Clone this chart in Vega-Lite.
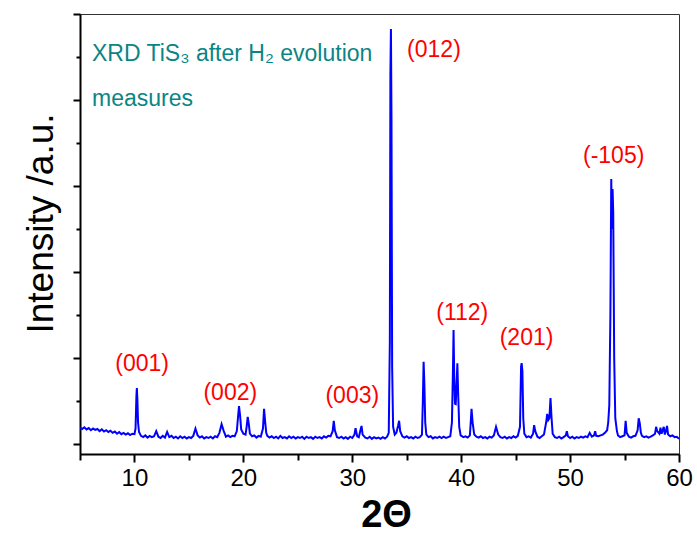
{
"$schema":"https://vega.github.io/schema/vega-lite/v6.json",
"width":599,"height":440,
"autosize":{"type":"none"},
"padding":{"left":80,"top":14,"right":18,"bottom":79},
"background":"white",
"config":{"view":{"stroke":"#333333","strokeWidth":1}},
"datasets":{
"xrd":[
{"t":5.0,"i":190},{"t":5.2,"i":175},{"t":5.4,"i":195},{"t":5.6,"i":170},{"t":5.8,"i":185},{"t":6.0,"i":160},{"t":6.2,"i":180},{"t":6.4,"i":165},{"t":6.6,"i":175},{"t":6.8,"i":150},{"t":7.0,"i":170},{"t":7.2,"i":145},{"t":7.4,"i":160},{"t":7.6,"i":140},{"t":7.8,"i":155},{"t":8.0,"i":130},{"t":8.2,"i":145},{"t":8.4,"i":120},{"t":8.6,"i":140},{"t":8.8,"i":115},{"t":9.0,"i":130},{"t":9.2,"i":110},{"t":9.4,"i":125},{"t":9.6,"i":105},{"t":9.8,"i":120},
{"t":10.0,"i":115},{"t":10.1,"i":180},{"t":10.18,"i":560},{"t":10.22,"i":650},{"t":10.27,"i":520},{"t":10.33,"i":250},{"t":10.42,"i":140},
{"t":10.6,"i":95},{"t":10.8,"i":80},{"t":11.0,"i":100},{"t":11.2,"i":75},{"t":11.4,"i":95},{"t":11.6,"i":80},{"t":11.8,"i":90},{"t":12.0,"i":150},{"t":12.2,"i":85},{"t":12.4,"i":70},{"t":12.6,"i":95},{"t":12.8,"i":75},{"t":13.0,"i":140},{"t":13.2,"i":80},{"t":13.4,"i":95},{"t":13.6,"i":70},{"t":13.8,"i":85},{"t":14.0,"i":65},{"t":14.2,"i":90},{"t":14.4,"i":70},{"t":14.6,"i":85},{"t":14.8,"i":65},{"t":15.0,"i":80},{"t":15.2,"i":70},{"t":15.4,"i":95},{"t":15.6,"i":180},{"t":15.8,"i":100},{"t":16.0,"i":75},{"t":16.2,"i":90},{"t":16.4,"i":65},{"t":16.6,"i":80},{"t":16.8,"i":70},{"t":17.0,"i":85},{"t":17.2,"i":65},{"t":17.4,"i":90},{"t":17.6,"i":80},{"t":17.8,"i":130},{"t":18.0,"i":230},{"t":18.2,"i":150},{"t":18.4,"i":85},{"t":18.6,"i":100},{"t":18.8,"i":80},{"t":19.0,"i":95},{"t":19.2,"i":90},{"t":19.4,"i":150},{"t":19.5,"i":300},{"t":19.6,"i":440},{"t":19.7,"i":330},{"t":19.8,"i":170},{"t":20.0,"i":120},{"t":20.2,"i":110},{"t":20.3,"i":200},{"t":20.4,"i":315},{"t":20.5,"i":230},{"t":20.6,"i":120},{"t":20.8,"i":90},{"t":21.0,"i":100},{"t":21.2,"i":75},{"t":21.4,"i":95},{"t":21.6,"i":85},{"t":21.8,"i":180},{"t":21.9,"i":410},{"t":22.0,"i":260},{"t":22.1,"i":130},{"t":22.2,"i":95},{"t":22.4,"i":75},{"t":22.6,"i":90},{"t":22.8,"i":70},{"t":23.0,"i":85},{"t":23.2,"i":65},{"t":23.4,"i":95},{"t":23.6,"i":70},{"t":23.8,"i":80},{"t":24.0,"i":65},{"t":24.2,"i":90},{"t":24.4,"i":70},{"t":24.6,"i":85},{"t":24.8,"i":65},{"t":25.0,"i":80},{"t":25.2,"i":70},{"t":25.4,"i":85},{"t":25.6,"i":60},{"t":25.8,"i":85},{"t":26.0,"i":70},{"t":26.2,"i":80},{"t":26.4,"i":60},{"t":26.6,"i":85},{"t":26.8,"i":70},{"t":27.0,"i":80},{"t":27.2,"i":65},{"t":27.4,"i":90},{"t":27.6,"i":75},{"t":27.8,"i":95},{"t":28.0,"i":90},{"t":28.2,"i":150},{"t":28.3,"i":270},{"t":28.4,"i":160},{"t":28.6,"i":80},{"t":28.8,"i":70},{"t":29.0,"i":85},{"t":29.2,"i":65},{"t":29.4,"i":80},{"t":29.6,"i":60},{"t":29.8,"i":85},{"t":30.0,"i":70},{"t":30.2,"i":110},{"t":30.3,"i":185},{"t":30.45,"i":90},{"t":30.6,"i":80},{"t":30.75,"i":160},{"t":30.85,"i":210},{"t":30.95,"i":110},{"t":31.2,"i":75},{"t":31.4,"i":65},{"t":31.6,"i":85},{"t":31.8,"i":60},{"t":32.0,"i":80},{"t":32.2,"i":65},{"t":32.4,"i":75},{"t":32.6,"i":60},{"t":32.8,"i":80},{"t":33.0,"i":65},{"t":33.2,"i":85},{"t":33.35,"i":130},{"t":33.45,"i":1200},{"t":33.5,"i":4300},{"t":33.55,"i":4826},{"t":33.6,"i":3800},{"t":33.66,"i":900},{"t":33.75,"i":200},{"t":33.9,"i":110},{"t":34.05,"i":130},{"t":34.2,"i":210},{"t":34.3,"i":270},{"t":34.4,"i":150},{"t":34.6,"i":90},{"t":34.8,"i":75},{"t":35.0,"i":90},{"t":35.2,"i":70},{"t":35.4,"i":80},{"t":35.6,"i":65},{"t":35.8,"i":85},{"t":36.0,"i":70},{"t":36.2,"i":80},{"t":36.4,"i":110},{"t":36.48,"i":500},{"t":36.55,"i":955},{"t":36.62,"i":700},{"t":36.7,"i":250},{"t":36.8,"i":110},{"t":37.0,"i":80},{"t":37.2,"i":90},{"t":37.4,"i":65},{"t":37.6,"i":80},{"t":37.8,"i":70},{"t":38.0,"i":85},{"t":38.2,"i":70},{"t":38.4,"i":85},{"t":38.6,"i":70},{"t":38.8,"i":80},{"t":39.0,"i":90},{"t":39.15,"i":250},{"t":39.25,"i":900},{"t":39.3,"i":1325},{"t":39.36,"i":800},{"t":39.43,"i":470},{"t":39.5,"i":465},{"t":39.58,"i":700},{"t":39.65,"i":940},{"t":39.72,"i":600},{"t":39.82,"i":200},{"t":39.95,"i":100},{"t":40.2,"i":80},{"t":40.4,"i":90},{"t":40.6,"i":75},{"t":40.8,"i":100},{"t":40.9,"i":300},{"t":40.95,"i":410},{"t":41.05,"i":250},{"t":41.2,"i":110},{"t":41.4,"i":85},{"t":41.6,"i":75},{"t":41.8,"i":90},{"t":42.0,"i":70},{"t":42.2,"i":80},{"t":42.4,"i":65},{"t":42.6,"i":85},{"t":42.8,"i":75},{"t":43.0,"i":100},{"t":43.2,"i":200},{"t":43.4,"i":110},{"t":43.6,"i":80},{"t":43.8,"i":70},{"t":44.0,"i":85},{"t":44.2,"i":65},{"t":44.4,"i":80},{"t":44.6,"i":70},{"t":44.8,"i":90},{"t":45.0,"i":75},{"t":45.2,"i":95},{"t":45.4,"i":200},{"t":45.5,"i":900},{"t":45.55,"i":940},{"t":45.62,"i":850},{"t":45.7,"i":300},{"t":45.8,"i":120},{"t":46.0,"i":80},{"t":46.2,"i":90},{"t":46.4,"i":75},{"t":46.6,"i":120},{"t":46.7,"i":220},{"t":46.8,"i":150},{"t":47.0,"i":85},{"t":47.2,"i":70},{"t":47.4,"i":90},{"t":47.6,"i":110},{"t":47.8,"i":250},{"t":47.9,"i":350},{"t":48.0,"i":280},{"t":48.1,"i":300},{"t":48.2,"i":535},{"t":48.3,"i":300},{"t":48.4,"i":120},{"t":48.6,"i":80},{"t":48.8,"i":70},{"t":49.0,"i":85},{"t":49.2,"i":65},{"t":49.4,"i":80},{"t":49.6,"i":100},{"t":49.7,"i":150},{"t":49.8,"i":90},{"t":50.0,"i":70},{"t":50.2,"i":85},{"t":50.4,"i":65},{"t":50.6,"i":80},{"t":50.8,"i":70},{"t":51.0,"i":85},{"t":51.2,"i":75},{"t":51.4,"i":90},{"t":51.6,"i":80},{"t":51.8,"i":130},{"t":52.0,"i":85},{"t":52.2,"i":100},{"t":52.3,"i":150},{"t":52.4,"i":95},{"t":52.6,"i":90},{"t":52.8,"i":100},{"t":53.0,"i":110},{"t":53.2,"i":130},{"t":53.4,"i":160},{"t":53.5,"i":250},{"t":53.6,"i":450},{"t":53.7,"i":1500},{"t":53.78,"i":3080},{"t":53.84,"i":2500},{"t":53.9,"i":2965},{"t":53.96,"i":2700},{"t":54.05,"i":1000},{"t":54.15,"i":300},{"t":54.3,"i":150},{"t":54.4,"i":100},{"t":54.6,"i":80},{"t":54.8,"i":90},{"t":55.0,"i":100},{"t":55.1,"i":270},{"t":55.2,"i":130},{"t":55.4,"i":85},{"t":55.6,"i":75},{"t":55.8,"i":90},{"t":56.0,"i":95},{"t":56.2,"i":160},{"t":56.3,"i":300},{"t":56.4,"i":240},{"t":56.5,"i":130},{"t":56.6,"i":95},{"t":56.8,"i":80},{"t":57.0,"i":90},{"t":57.2,"i":75},{"t":57.4,"i":85},{"t":57.6,"i":100},{"t":57.8,"i":120},{"t":57.9,"i":200},{"t":58.0,"i":150},{"t":58.2,"i":120},{"t":58.3,"i":190},{"t":58.4,"i":120},{"t":58.6,"i":200},{"t":58.7,"i":110},{"t":58.8,"i":150},{"t":58.9,"i":210},{"t":59.0,"i":110},{"t":59.2,"i":90},{"t":59.4,"i":100},{"t":59.6,"i":80},{"t":59.8,"i":85},{"t":60.0,"i":60}
],
"ann":[
{"t":10.7,"i":930,"label":"(001)"},
{"t":18.8,"i":590,"label":"(002)"},
{"t":30.0,"i":560,"label":"(003)"},
{"t":37.5,"i":4580,"label":"(012)"},
{"t":40.1,"i":1523,"label":"(112)"},
{"t":46.0,"i":1233,"label":"(201)"},
{"t":54.0,"i":3350,"label":"(-105)"}
],
"note":[
{"t":6.1,"i":4535,"label":"XRD TiS₃ after H₂ evolution"},
{"t":6.1,"i":4012,"label":"measures"}
]
},
"layer":[
{"data":{"name":"xrd"},
 "mark":{"type":"line","color":"#0000ff","strokeWidth":2,"clip":true},
 "encoding":{
  "x":{"field":"t","type":"quantitative","scale":{"domain":[5,60],"nice":false,"zero":false},
   "axis":{"values":[5,10,15,20,25,30,35,40,45,50,55,60],"labelExpr":"datum.value % 10 === 0 ? datum.label : ''",
    "tickSize":{"condition":{"test":"datum.value % 10 === 0","value":8},"value":6},
    "tickColor":"black","tickWidth":2,"domainColor":"black","domainWidth":2,"grid":false,
    "labelFont":"Liberation Sans","labelFontSize":24,"labelColor":"black","labelPadding":4,"labelFlush":false,
    "title":"2Θ","titleFont":"Liberation Sans","titleFontSize":38,"titleFontWeight":"bold","titleColor":"black",
    "titleBaseline":"alphabetic","titleX":306,"titleY":72}},
  "y":{"field":"i","type":"quantitative","scale":{"domain":[-116,5000],"nice":false,"zero":false},
   "axis":{"values":[0,500,1000,1500,2000,2500,3000,3500,4000,4500,5000],"labels":false,
    "tickSize":{"condition":{"test":"datum.value % 1000 === 0","value":7},"value":4},
    "tickColor":"black","tickWidth":2,"domainColor":"black","domainWidth":2,"grid":false,
    "title":"Intensity /a.u.","titleFont":"Liberation Sans","titleFontSize":37,"titleFontWeight":"normal","titleColor":"black",
    "titleAngle":-90,"titleBaseline":"alphabetic","titleAlign":"center","titleX":-28,"titleY":209}}
 }},
{"data":{"name":"ann"},
 "mark":{"type":"text","color":"#ff0000","font":"Liberation Sans","fontSize":23,"align":"center","baseline":"middle"},
 "encoding":{"x":{"field":"t","type":"quantitative"},"y":{"field":"i","type":"quantitative"},"text":{"field":"label"}}},
{"data":{"name":"note"},
 "mark":{"type":"text","color":"#0a8585","font":"Liberation Sans","fontSize":23,"align":"left","baseline":"middle"},
 "encoding":{"x":{"field":"t","type":"quantitative"},"y":{"field":"i","type":"quantitative"},"text":{"field":"label"}}}
]
}
